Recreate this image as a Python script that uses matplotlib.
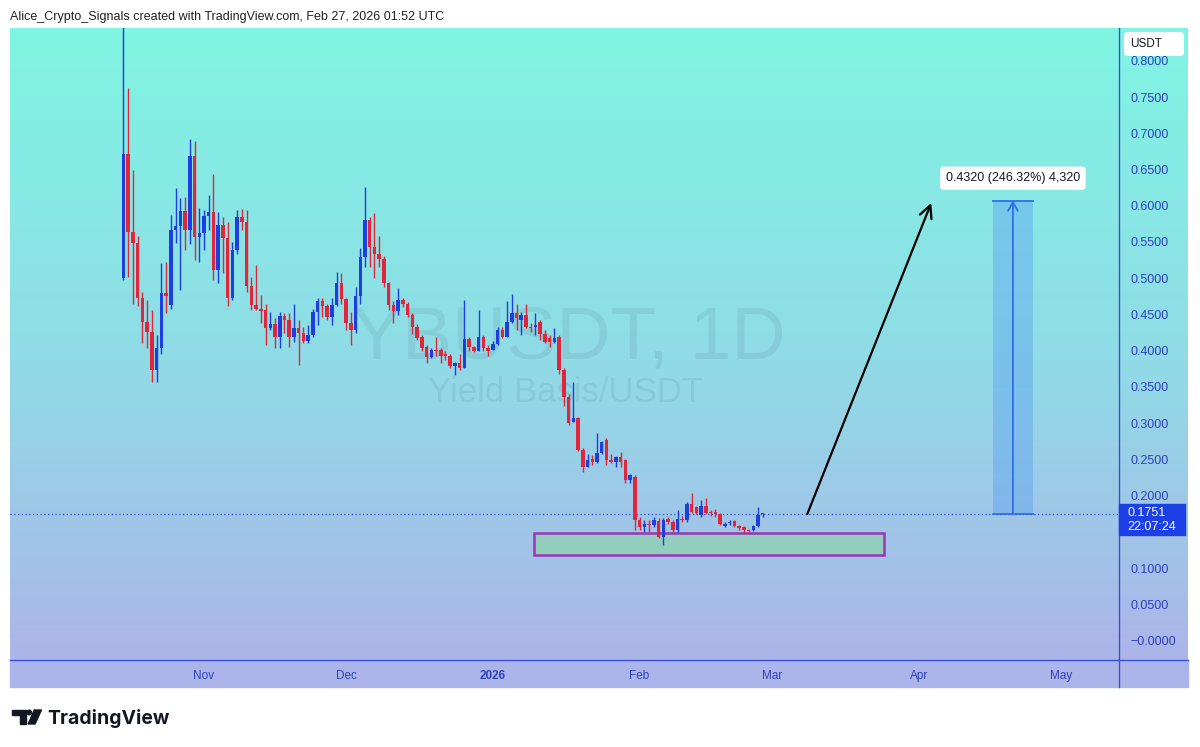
import numpy as np
import pandas as pd
import matplotlib.pyplot as plt
import matplotlib.dates as mdates
from matplotlib.patches import Rectangle, FancyBboxPatch, Polygon, Circle

# daily candles, YBUSDT 1D
start = '2025-10-15'
opens = [0.500, 0.672, 0.564, 0.549, 0.473, 0.440, 0.426, 0.373, 0.403, 0.480,
         0.463, 0.566, 0.572, 0.593, 0.566, 0.668, 0.557, 0.563, 0.586, 0.592,
         0.512, 0.573, 0.555, 0.472, 0.539, 0.584, 0.578, 0.489, 0.463, 0.458,
         0.456, 0.431, 0.437, 0.419, 0.448, 0.443, 0.419, 0.431, 0.424, 0.414,
         0.422, 0.454, 0.469, 0.462, 0.446, 0.463, 0.493, 0.471, 0.438, 0.429,
         0.475, 0.529, 0.581, 0.543, 0.533, 0.527, 0.493, 0.463, 0.455, 0.470,
         0.464, 0.449, 0.432, 0.419, 0.405, 0.391, 0.401, 0.401, 0.395, 0.393,
         0.379, 0.383, 0.376, 0.416, 0.405, 0.400, 0.419, 0.403, 0.401, 0.409,
         0.429, 0.419, 0.440, 0.452, 0.443, 0.449, 0.433, 0.433, 0.439, 0.423,
         0.417, 0.412, 0.419, 0.374, 0.336, 0.302, 0.307, 0.263, 0.240, 0.250,
         0.247, 0.259, 0.277, 0.249, 0.247, 0.253, 0.249, 0.222, 0.226, 0.166,
         0.157, 0.161, 0.159, 0.165, 0.143, 0.167, 0.164, 0.153, 0.168, 0.166,
         0.189, 0.184, 0.173, 0.186, 0.178, 0.178, 0.175, 0.158, 0.162, 0.165,
         0.158, 0.156, 0.153, 0.152, 0.158, 0.1740]
highs = [0.950, 0.762, 0.650, 0.558, 0.481, 0.470, 0.456, 0.422, 0.521, 0.523,
         0.587, 0.624, 0.610, 0.612, 0.692, 0.690, 0.597, 0.594, 0.615, 0.644,
         0.592, 0.584, 0.578, 0.550, 0.594, 0.595, 0.594, 0.502, 0.518, 0.477,
         0.465, 0.454, 0.445, 0.454, 0.452, 0.452, 0.465, 0.442, 0.433, 0.435,
         0.458, 0.472, 0.472, 0.465, 0.472, 0.508, 0.507, 0.472, 0.454, 0.488,
         0.541, 0.626, 0.584, 0.590, 0.558, 0.531, 0.495, 0.468, 0.486, 0.472,
         0.467, 0.452, 0.437, 0.421, 0.408, 0.403, 0.419, 0.403, 0.399, 0.395,
         0.385, 0.395, 0.470, 0.419, 0.406, 0.456, 0.421, 0.408, 0.413, 0.433,
         0.433, 0.468, 0.478, 0.465, 0.454, 0.465, 0.438, 0.452, 0.443, 0.428,
         0.422, 0.431, 0.422, 0.376, 0.340, 0.357, 0.309, 0.265, 0.258, 0.256,
         0.286, 0.276, 0.279, 0.258, 0.254, 0.260, 0.250, 0.230, 0.228, 0.171,
         0.166, 0.166, 0.171, 0.169, 0.169, 0.170, 0.166, 0.180, 0.172, 0.191,
         0.204, 0.186, 0.194, 0.196, 0.180, 0.181, 0.176, 0.164, 0.166, 0.166,
         0.159, 0.158, 0.154, 0.159, 0.184, 0.1760]
lows = [0.498, 0.502, 0.465, 0.461, 0.410, 0.403, 0.357, 0.357, 0.396, 0.452,
        0.458, 0.549, 0.484, 0.539, 0.547, 0.525, 0.523, 0.539, 0.566, 0.498,
        0.493, 0.507, 0.462, 0.470, 0.534, 0.567, 0.481, 0.456, 0.456, 0.438,
        0.408, 0.429, 0.403, 0.403, 0.424, 0.405, 0.412, 0.380, 0.410, 0.410,
        0.419, 0.435, 0.447, 0.442, 0.435, 0.461, 0.465, 0.429, 0.408, 0.424,
        0.465, 0.516, 0.516, 0.500, 0.516, 0.488, 0.456, 0.438, 0.449, 0.460,
        0.446, 0.423, 0.415, 0.400, 0.383, 0.390, 0.393, 0.383, 0.387, 0.376,
        0.366, 0.374, 0.376, 0.400, 0.398, 0.400, 0.400, 0.392, 0.401, 0.408,
        0.417, 0.419, 0.438, 0.429, 0.422, 0.431, 0.426, 0.422, 0.415, 0.410,
        0.405, 0.410, 0.368, 0.323, 0.298, 0.302, 0.261, 0.233, 0.239, 0.242,
        0.245, 0.257, 0.242, 0.245, 0.240, 0.240, 0.217, 0.217, 0.152, 0.152,
        0.150, 0.150, 0.157, 0.141, 0.132, 0.161, 0.150, 0.150, 0.163, 0.164,
        0.176, 0.174, 0.171, 0.174, 0.172, 0.171, 0.159, 0.157, 0.159, 0.156,
        0.153, 0.149, 0.150, 0.151, 0.157, 0.1710]
closes = [0.672, 0.564, 0.549, 0.473, 0.440, 0.426, 0.373, 0.403, 0.480, 0.476,
          0.566, 0.572, 0.593, 0.566, 0.668, 0.557, 0.563, 0.586, 0.592, 0.512,
          0.573, 0.555, 0.472, 0.539, 0.584, 0.578, 0.489, 0.463, 0.458, 0.455,
          0.431, 0.437, 0.419, 0.448, 0.443, 0.419, 0.431, 0.424, 0.414, 0.422,
          0.454, 0.469, 0.462, 0.446, 0.463, 0.493, 0.471, 0.438, 0.429, 0.475,
          0.529, 0.581, 0.543, 0.533, 0.527, 0.493, 0.463, 0.455, 0.470, 0.464,
          0.449, 0.432, 0.418, 0.403, 0.391, 0.401, 0.400, 0.393, 0.393, 0.379,
          0.383, 0.376, 0.416, 0.405, 0.400, 0.419, 0.403, 0.400, 0.409, 0.429,
          0.419, 0.440, 0.452, 0.445, 0.449, 0.433, 0.431, 0.436, 0.423, 0.412,
          0.412, 0.418, 0.374, 0.336, 0.300, 0.307, 0.263, 0.240, 0.249, 0.247,
          0.259, 0.274, 0.249, 0.247, 0.253, 0.247, 0.222, 0.228, 0.166, 0.157,
          0.161, 0.159, 0.166, 0.143, 0.166, 0.164, 0.152, 0.167, 0.166, 0.189,
          0.178, 0.176, 0.186, 0.176, 0.176, 0.175, 0.161, 0.161, 0.164, 0.158,
          0.155, 0.152, 0.152, 0.158, 0.173, 0.1751]

last_price = 0.1751
countdown = '22:07:24'
# 0.15 sits under the last-price tag, so it is not shown
price_ticks = [0.0, 0.05, 0.10, 0.20, 0.25, 0.30, 0.35, 0.40, 0.45, 0.50,
               0.55, 0.60, 0.65, 0.70, 0.75, 0.80]
month_ticks = ['2025-11-01', '2025-12-01', '2026-01-01', '2026-02-01',
               '2026-03-01', '2026-04-01', '2026-05-01']
month_labels = ['Nov', 'Dec', '2026', 'Feb', 'Mar', 'Apr', 'May']

# drawings on the chart
zone_x = ['2026-01-09 19:00', '2026-03-24 17:00']
zone_y = [0.1180, 0.1484]
arrow_from = ('2026-03-08 10:00', 0.1746)
arrow_to = ('2026-04-03 14:00', 0.6038)
measure_x = ['2026-04-16 14:00', '2026-04-25 02:00']
measure_y = [0.1751, 0.6071]
measure_text = '0.4320 (246.32%) 4,320'

UP = '#1d3fe2'
DOWN = '#e3253c'
AXIS_TXT = '#2f40bd'
LINE = '#3a4fd4'

plt.rcParams['font.family'] = ['Liberation Sans', 'DejaVu Sans']

W, H = 1200, 747
fig = plt.figure(figsize=(W / 100, H / 100), dpi=100)
fig.patch.set_facecolor('white')

# background layer in pixel coordinates
bg = fig.add_axes([0, 0, 1, 1], zorder=0)
bg.set_xlim(0, W)
bg.set_ylim(H, 0)
bg.axis('off')

top = np.array([128, 245, 227]) / 255
mid = np.array([143, 221, 230]) / 255
bot = np.array([172, 181, 233]) / 255
t = np.linspace(0, 1, 300)[:, None]
grad = np.where(t < 0.5, top + (mid - top) * (t / 0.5), mid + (bot - mid) * ((t - 0.5) / 0.5))
bg.imshow(grad[:, None, :], extent=[10, 1188, 660, 28], aspect='auto', zorder=0)
bg.add_patch(Rectangle((10, 660), 1178, 27, color=bot, zorder=0))
bg.plot([1119, 1119], [28, 687], color=LINE, lw=1, zorder=1)
bg.plot([10, 1188], [660, 660], color=LINE, lw=1, zorder=1)

# watermark
bg.text(569, 358, 'YBUSDT, 1D', fontsize=54, color='#4a6e80', alpha=0.13,
        ha='center', va='baseline')
bg.text(565, 401.5, 'Yield Basis/USDT', fontsize=25, color='#4a6e80', alpha=0.13,
        ha='center', va='baseline')

fig.text(10 / W, 1 - 17 / H,
         'Alice_Crypto_Signals created with TradingView.com, Feb 27, 2026 01:52 UTC',
         fontsize=9, color='#222222', va='center', ha='left')

# TradingView logo
ink = '#131722'
bg.add_patch(Polygon([(12, 710), (25.5, 710), (25.5, 724), (19.5, 724), (19.5, 715), (12, 715)],
                     color=ink, zorder=2))
bg.add_patch(Circle((29.2, 712.5), 2.3, color=ink, zorder=2))
bg.add_patch(Polygon([(34.2, 710), (41.5, 710), (35, 724), (28.2, 724)], color=ink, zorder=2))
bg.text(47, 724.5, 'TradingView', fontsize=14, fontweight='bold', color=ink,
        family=['Inter', 'DejaVu Sans'], va='baseline', ha='left')

# main chart
ax = fig.add_axes([10 / W, 1 - 660 / H, 1109 / W, 632 / H], zorder=1)
ax.patch.set_alpha(0)
for s in ax.spines.values():
    s.set_visible(False)

df = pd.DataFrame({'open': opens, 'high': highs, 'low': lows, 'close': closes},
                  index=pd.date_range(start, periods=len(opens), freq='D'))
x = mdates.date2num(df.index.to_pydatetime())
colors = np.where(df['close'] >= df['open'], UP, DOWN)
body = (df['close'] - df['open']).to_numpy()
body = np.where(np.abs(body) < 0.0015, np.sign(body + 1e-9) * 0.0015, body)

ax.vlines(x, df['low'], df['high'], colors=colors, lw=1.0, zorder=3)
ax.bar(x, body, bottom=df['open'], width=0.74, color=colors, lw=0, zorder=4)

nov1 = mdates.date2num(pd.Timestamp('2025-11-01'))
ax.set_xlim(nov1 - 40.97, nov1 + 193.24)
ax.set_ylim(-0.0269, 0.8453)

ax.axhline(last_price, color='#2a47d6', lw=0.9, ls=(0, (1, 2)), zorder=2)

# support zone
zx = mdates.date2num(pd.to_datetime(zone_x))
ax.add_patch(Rectangle((zx[0], zone_y[0]), zx[1] - zx[0], zone_y[1] - zone_y[0],
                       facecolor='#92cdbd', edgecolor='#9a35b4', lw=1.8, zorder=2))

# projection arrow
a0 = mdates.date2num(pd.Timestamp(arrow_from[0]))
a1 = mdates.date2num(pd.Timestamp(arrow_to[0]))
ax.annotate('', xy=(a1, arrow_to[1]), xytext=(a0, arrow_from[1]),
            arrowprops=dict(arrowstyle='->,head_length=0.9,head_width=0.45',
                            color='black', lw=1.6, shrinkA=0, shrinkB=0), zorder=5)

# price range measurement
mx = mdates.date2num(pd.to_datetime(measure_x))
ax.add_patch(Rectangle((mx[0], measure_y[0]), mx[1] - mx[0], measure_y[1] - measure_y[0],
                       facecolor='#5b9ff2', alpha=0.42, lw=0, zorder=2))
ax.plot(mx, [measure_y[1]] * 2, color='#2f6ee8', lw=1.3, zorder=3)
ax.plot(mx, [measure_y[0]] * 2, color='#2f6ee8', lw=1.3, zorder=3)
mxc = (mx[0] + mx[1]) / 2
ax.annotate('', xy=(mxc, measure_y[1]), xytext=(mxc, measure_y[0]),
            arrowprops=dict(arrowstyle='->,head_length=0.6,head_width=0.35',
                            color='#2f6ee8', lw=1.3, shrinkA=0, shrinkB=0), zorder=4)
ax.text(mxc, measure_y[1] + 0.031, measure_text, fontsize=9, color='#131722',
        ha='center', va='center', zorder=6,
        bbox=dict(boxstyle='round,pad=0.45,rounding_size=0.25', fc='white', ec='none'))

# axes labels
ax.yaxis.tick_right()
ax.set_yticks(price_ticks)
ax.set_yticklabels(['\u22120.0000' if abs(v) < 1e-9 else f'{v:.4f}' for v in price_ticks])
ax.tick_params(axis='y', length=0, pad=8, labelsize=9, labelcolor=AXIS_TXT)
ax.set_xticks(mdates.date2num(pd.to_datetime(month_ticks)))
ax.set_xticklabels(month_labels)
ax.tick_params(axis='x', length=0, pad=7, labelsize=8.5, labelcolor=AXIS_TXT)
for lbl in ax.get_xticklabels():
    if lbl.get_text() == '2026':
        lbl.set_fontweight('bold')

# last price tag on the price scale
ytr = ax.get_yaxis_transform()
ax.add_patch(Rectangle((1.0, last_price - 0.0295), 66 / 1109, 0.0428, transform=ytr,
                       color='#1d3fe6', clip_on=False, zorder=6))
ax.text(1.0 + 8 / 1109, last_price + 0.001, f'{last_price:.4f}', transform=ytr,
        fontsize=9, color='white', va='center', ha='left', zorder=7, clip_on=False)
ax.text(1.0 + 8 / 1109, last_price - 0.019, countdown, transform=ytr,
        fontsize=9, color='white', va='center', ha='left', zorder=7, clip_on=False)

# currency box at top of the price scale
bg.add_patch(FancyBboxPatch((1124, 32), 60, 24, boxstyle='round,pad=0,rounding_size=4',
                            fc='white', ec='none', zorder=5))
bg.text(1130, 44, 'USDT', fontsize=8.5, color='#131722', va='center', ha='left', zorder=6)

fig.savefig('out.png', dpi=100)
